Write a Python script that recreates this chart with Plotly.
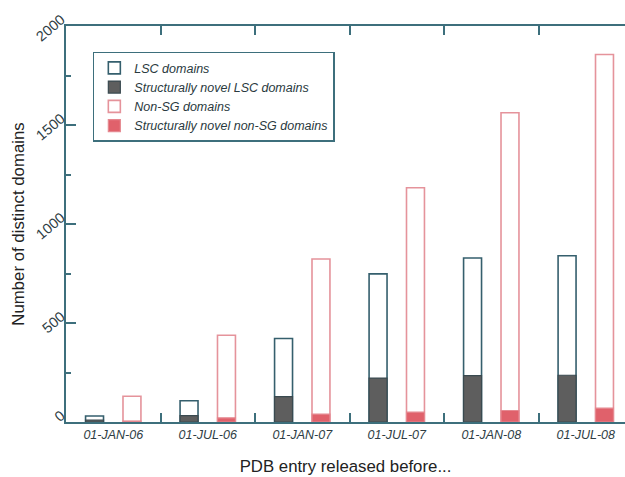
import plotly.graph_objects as go

categories = ["01-JAN-06", "01-JUL-06", "01-JAN-07", "01-JUL-07", "01-JAN-08", "01-JUL-08"]
lsc_total = [30, 107, 422, 748, 828, 840]
lsc_novel = [10, 32, 128, 222, 234, 236]
nonsg_total = [130, 438, 823, 1183, 1562, 1856]
nonsg_novel = [5, 21, 40, 50, 58, 70]

AX = "#3d6f7c"
TXT = "#2e3d44"
W = 0.19
fig = go.Figure()
fig.add_trace(go.Bar(x=categories, y=lsc_total, name="LSC domains", width=W, offset=-0.293,
                     marker=dict(color="white", line=dict(color="#355f6d", width=1.6))))
fig.add_trace(go.Bar(x=categories, y=lsc_novel, name="Structurally novel LSC domains", width=W, offset=-0.293,
                     marker=dict(color="#5e5e5e", line=dict(color="#3a4a50", width=1.2))))
fig.add_trace(go.Bar(x=categories, y=nonsg_total, name="Non-SG domains", width=W, offset=0.103,
                     marker=dict(color="white", line=dict(color="#e5939b", width=1.6))))
fig.add_trace(go.Bar(x=categories, y=nonsg_novel, name="Structurally novel non-SG domains", width=W, offset=0.103,
                     marker=dict(color="#e0616b", line=dict(color="#e58890", width=1.2))))

fig.update_layout(
    width=625, height=477,
    margin=dict(l=66, r=0, t=26, b=55),
    barmode="overlay",
    plot_bgcolor="white", paper_bgcolor="white",
    font=dict(family="Liberation Sans, Arial, sans-serif", color=TXT, size=12),
    legend=dict(
        x=0.048, y=0.935, xanchor="left", yanchor="top",
        bgcolor="white", bordercolor=AX, borderwidth=1.5,
        font=dict(size=12.5, style="italic", color="#2a3a40"),
        tracegroupgap=0, itemwidth=30,
    ),
    xaxis=dict(
        type="category", range=[-0.5, 5.415],
        showline=True, linecolor=AX, linewidth=1.5, mirror="allticks",
        ticks="inside", tickson="boundaries", ticklen=9, tickcolor=AX, tickwidth=1.5,
        tickfont=dict(size=12.5, style="italic", color=TXT),
        title=dict(text="PDB entry released before...", font=dict(size=16.8, color="#222"), standoff=19),
        showgrid=False, automargin=False,
    ),
    yaxis=dict(
        range=[0, 2000], tickvals=[0, 500, 1000, 1500, 2000],
        showline=True, linecolor=AX, linewidth=1.5, mirror=False,
        ticks="inside", ticklen=10, tickcolor=AX, tickwidth=1.5,
        minor=dict(tickvals=[250, 750, 1250, 1750], ticks="inside", ticklen=5, tickcolor=AX, tickwidth=1.5),
        tickangle=-40, tickfont=dict(size=14.5, color=TXT), ticklabelshift=-8,
        title=dict(text="Number of distinct domains", font=dict(size=16.8, color="#222"), standoff=4),
        showgrid=False, zeroline=False, automargin=False,
    ),
)

fig.write_html("out.html", config={"displayModeBar": False},
               post_script="document.body.style.margin='0';")
